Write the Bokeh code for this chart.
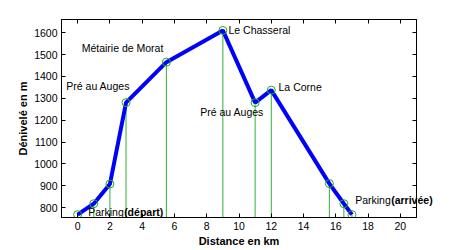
from bokeh.plotting import figure
from bokeh.models import Range1d, LinearAxis, Label, FixedTicker
from bokeh.embed import file_html
from bokeh.resources import INLINE

distance_km = [0, 1, 2, 3, 5.5, 9, 11, 12, 15.6, 16.5, 17]
altitude_m = [768, 818, 908, 1280, 1465, 1610, 1280, 1337, 910, 818, 768]

x_ticks = [0, 2, 4, 6, 8, 10, 12, 14, 16, 18, 20]
y_ticks = [800, 900, 1000, 1100, 1200, 1300, 1400, 1500, 1600]

label_texts = ["Métairie de Morat", "Pré au Auges", "Le Chasseral", "La Corne", "Pré au Auges"]
label_x = [0.25, -0.7, 9.35, 12.45, 7.6]
label_y = [1530, 1355, 1610, 1350, 1235]

parking_x = [0.65, 17.2]
parking_y = [778, 835]
parking_suffix = ["(départ)", "(arrivée)"]

FONT = "Liberation Sans"

p = figure(width=460, height=250, output_backend="svg", toolbar_location=None,
           x_range=Range1d(-1, 21), y_range=Range1d(755, 1660),
           min_border_left=61, min_border_right=44, min_border_top=19, min_border_bottom=33)
p.background_fill_color = "white"
p.border_fill_color = "white"
p.outline_line_color = "black"
p.outline_line_width = 1
p.grid.visible = False

for ax in [p.xaxis[0], p.yaxis[0]]:
    ax.major_tick_in = 4
    ax.major_tick_out = 0
    ax.minor_tick_line_color = None
    ax.axis_line_color = "black"
    ax.major_label_text_font = FONT
    ax.major_label_text_font_size = "10.5px"
    ax.major_label_text_color = "black"
    ax.axis_label_text_font = FONT
    ax.axis_label_text_font_size = "11px"
    ax.axis_label_text_font_style = "bold"
    ax.axis_label_text_color = "black"

p.xaxis.ticker = FixedTicker(ticks=x_ticks)
p.yaxis.ticker = FixedTicker(ticks=y_ticks)
p.xaxis.axis_label = "Distance en km"
p.yaxis.axis_label = "Dénivelé en m"
p.xaxis.major_label_standoff = 4
p.yaxis.major_label_standoff = 4
p.xaxis.axis_label_standoff = 2
p.yaxis.axis_label_standoff = 2

top = LinearAxis(ticker=FixedTicker(ticks=x_ticks), major_tick_in=4, major_tick_out=0,
                 minor_tick_line_color=None, major_label_text_color=None,
                 major_label_overrides={t: "" for t in x_ticks},
                 major_label_standoff=0)
right = LinearAxis(ticker=FixedTicker(ticks=y_ticks), major_tick_in=4, major_tick_out=0,
                   minor_tick_line_color=None, major_label_text_color=None,
                   major_label_overrides={t: "" for t in y_ticks},
                   major_label_standoff=0)
p.add_layout(top, "above")
p.add_layout(right, "right")

# green stems
bottom_vals = [p.y_range.start] * len(distance_km)
p.segment(x0=distance_km, y0=bottom_vals, x1=distance_km, y1=altitude_m,
          line_color="#33b033", line_width=1)
# blue profile
p.line(distance_km, altitude_m, line_color="#0000ff", line_width=4)
# green circles
p.scatter(distance_km, altitude_m, marker="circle", size=8, fill_color=None,
          line_color="#22aa22", line_width=1)

for t, x, y in zip(label_texts, label_x, label_y):
    p.add_layout(Label(x=x, y=y, text=t, text_font=FONT, text_font_size="10.5px",
                       text_color="black", text_baseline="middle", text_align="left"))

for i, (x, y, s) in enumerate(zip(parking_x, parking_y, parking_suffix)):
    p.add_layout(Label(x=x, y=y, text="Parking", text_font=FONT, text_font_size="10.5px",
                       text_color="black", text_baseline="middle", text_align="left"))
    place = "center" if i == 0 else "right"
    p.add_layout(Label(x=x, y=y, x_offset=36, text=s, text_font=FONT, text_font_size="10.5px",
                       text_font_style="bold", text_color="black",
                       text_baseline="middle", text_align="left"), place)

open("out.html", "w").write(file_html(p, INLINE))
